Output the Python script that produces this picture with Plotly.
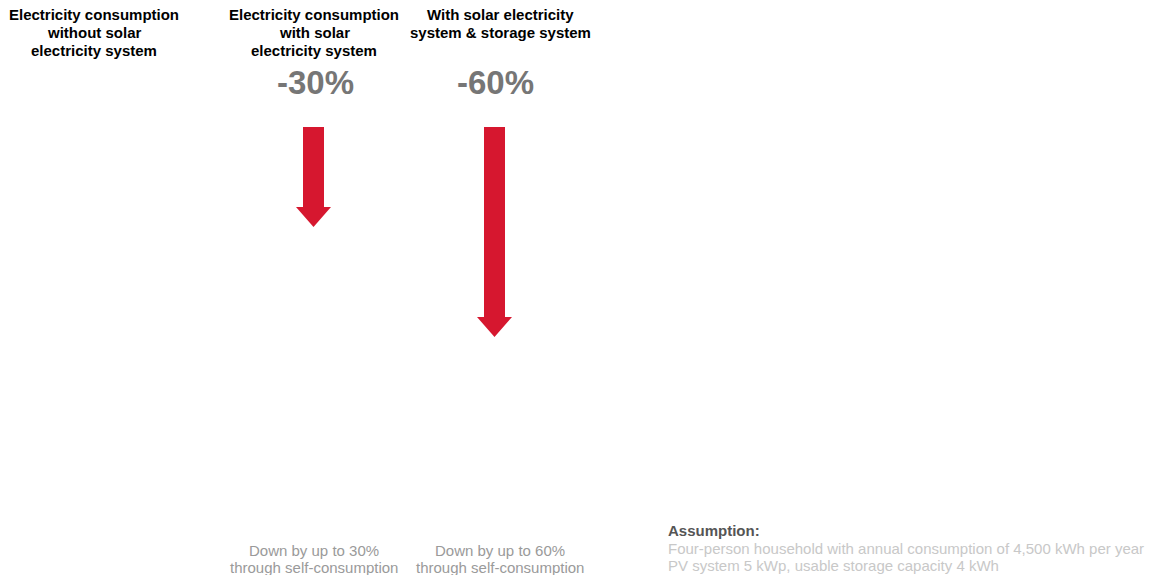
import plotly.graph_objects as go

# ---- data ----
categories = [
    "Electricity consumption<br>without solar<br>electricity system",
    "Electricity consumption<br>with solar<br>electricity system",
    "With solar electricity<br>system & storage system",
]
reductions = [0, 30, 60]  # percent
reduction_labels = ["", "-30%", "-60%"]
captions = [
    "",
    "Down by up to 30%<br>through self-consumption",
    "Down by up to 60%<br>through self-consumption",
]
assumption_title = "Assumption:"
assumption_lines = [
    "Four-person household with annual consumption of 4,500 kWh per year",
    "PV system 5 kWp, usable storage capacity 4 kWh",
]

# ---- layout constants (pixel space) ----
W, H = 1149, 575
col_x = [94, 314, 500]
label_x = [94, 315, 495]
caption_x = [94, 314, 500]
arrow_x = [313.5, 313.5, 494.5]
arrow_top = 127
px_per_pct = 11 / 3
px_offset = -10
shaft_half = 10.5
head_half = 17.5
head_len = 20
RED = "#d6172f"
FONT = "Liberation Sans, Arial, Helvetica, sans-serif"

fig = go.Figure()

for i, r in enumerate(reductions):
    if r <= 0:
        continue
    cx = arrow_x[i]
    tip = arrow_top + r * px_per_pct + px_offset
    hs = tip - head_len
    xs = [cx - shaft_half, cx + shaft_half, cx + shaft_half, cx + head_half, cx,
          cx - head_half, cx - shaft_half, cx - shaft_half]
    ys = [arrow_top, arrow_top, hs, hs, tip, hs, hs, arrow_top]
    fig.add_trace(go.Scatter(x=xs, y=ys, mode="lines", fill="toself",
                             fillcolor=RED, line=dict(color=RED, width=0),
                             hoverinfo="skip", showlegend=False))

def add_lines(text, x, y0, dy, size, color, bold=False, xanchor="center"):
    for j, line in enumerate(text.split("<br>")):
        if not line:
            continue
        t = f"<b>{line}</b>" if bold else line
        fig.add_annotation(x=x, y=y0 + j * dy, text=t, showarrow=False,
                           xref="x", yref="y", xanchor=xanchor, yanchor="middle",
                           font=dict(family=FONT, size=size, color=color))

for i, c in enumerate(categories):
    add_lines(c, col_x[i], 14, 18, 15, "#000000", bold=True)
    if reduction_labels[i]:
        add_lines(reduction_labels[i], label_x[i], 82, 0, 33, "#767676", bold=True)
    if captions[i]:
        add_lines(captions[i], caption_x[i], 550, 17, 15, "#9a9a9a")

add_lines(assumption_title, 666, 530, 0, 15, "#555555", bold=True, xanchor="left")
for k, line in enumerate(assumption_lines):
    add_lines(line, 666, 548 + k * 17, 0, 15, "#c8c8c8", xanchor="left")

fig.update_layout(
    width=W, height=H,
    margin=dict(l=0, r=0, t=0, b=0),
    paper_bgcolor="white", plot_bgcolor="white",
    xaxis=dict(range=[0, W], visible=False, fixedrange=True),
    yaxis=dict(range=[H, 0], visible=False, fixedrange=True),
    showlegend=False,
)

fig.write_html("out.html",
               config={"displayModeBar": False, "staticPlot": True},
               post_script="document.body.style.margin='0';document.body.style.overflow='hidden';")
